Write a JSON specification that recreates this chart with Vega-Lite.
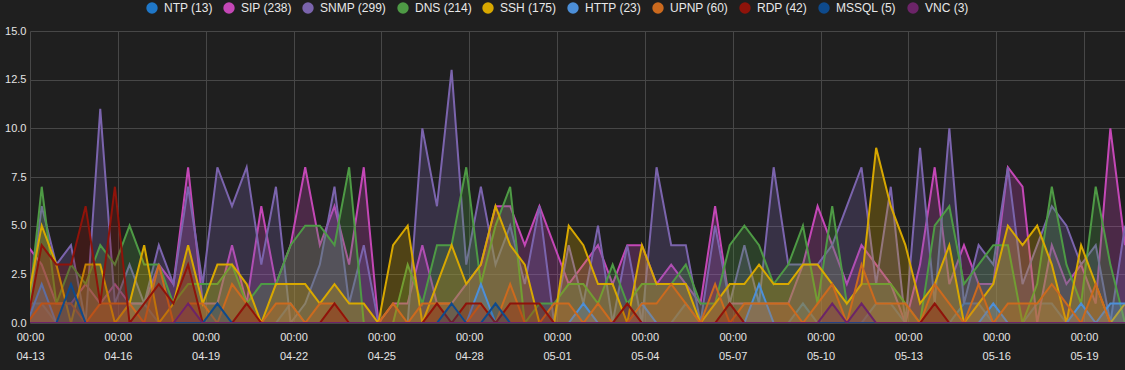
{
  "$schema": "https://vega.github.io/schema/vega-lite/v6.json",
  "width": 1095,
  "height": 292,
  "autosize": {"type": "none"},
  "padding": {"left": 30, "top": 31, "right": 0, "bottom": 47},
  "background": "#1f1f1f",
  "config": {
    "view": {"stroke": null},
    "axis": {"domain": false, "ticks": false, "gridColor": "#474747", "gridWidth": 1, "labelColor": "#e4e4e4", "labelFont": "Liberation Sans", "labelFontSize": 11},
    "legend": {"labelFont": "Liberation Sans"}
  },
  "data": {"values": [
    {"t":"2024-04-12T21:36:00Z","NTP":1,"SIP":4,"SNMP":0,"DNS":0,"SSH":1,"HTTP":0,"UPNP":0,"RDP":0,"MSSQL":0,"VNC":0},
    {"t":"2024-04-13T09:36:00Z","NTP":1,"SIP":3,"SNMP":6,"DNS":7,"SSH":5,"HTTP":2,"UPNP":1,"RDP":4,"MSSQL":0,"VNC":0},
    {"t":"2024-04-13T21:36:00Z","NTP":0,"SIP":1,"SNMP":3,"DNS":1,"SSH":3,"HTTP":0,"UPNP":1,"RDP":3,"MSSQL":0,"VNC":0},
    {"t":"2024-04-14T09:36:00Z","NTP":0,"SIP":1,"SNMP":4,"DNS":3,"SSH":0,"HTTP":0,"UPNP":1,"RDP":3,"MSSQL":2,"VNC":0},
    {"t":"2024-04-14T21:36:00Z","NTP":0,"SIP":2,"SNMP":0,"DNS":2,"SSH":3,"HTTP":0,"UPNP":0,"RDP":6,"MSSQL":0,"VNC":0},
    {"t":"2024-04-15T09:36:00Z","NTP":0,"SIP":1,"SNMP":11,"DNS":4,"SSH":3,"HTTP":0,"UPNP":1,"RDP":1,"MSSQL":0,"VNC":0},
    {"t":"2024-04-15T21:36:00Z","NTP":0,"SIP":2,"SNMP":1,"DNS":3,"SSH":0,"HTTP":0,"UPNP":1,"RDP":7,"MSSQL":0,"VNC":0},
    {"t":"2024-04-16T09:36:00Z","NTP":1,"SIP":1,"SNMP":3,"DNS":5,"SSH":1,"HTTP":0,"UPNP":1,"RDP":0,"MSSQL":0,"VNC":0},
    {"t":"2024-04-16T21:36:00Z","NTP":1,"SIP":1,"SNMP":1,"DNS":3,"SSH":4,"HTTP":0,"UPNP":0,"RDP":1,"MSSQL":0,"VNC":0},
    {"t":"2024-04-17T09:36:00Z","NTP":0,"SIP":3,"SNMP":4,"DNS":3,"SSH":0,"HTTP":0,"UPNP":3,"RDP":2,"MSSQL":0,"VNC":0},
    {"t":"2024-04-17T21:36:00Z","NTP":0,"SIP":2,"SNMP":2,"DNS":1,"SSH":1,"HTTP":0,"UPNP":0,"RDP":1,"MSSQL":0,"VNC":0},
    {"t":"2024-04-18T09:36:00Z","NTP":0,"SIP":8,"SNMP":7,"DNS":2,"SSH":4,"HTTP":0,"UPNP":1,"RDP":3,"MSSQL":0,"VNC":1},
    {"t":"2024-04-18T21:36:00Z","NTP":0,"SIP":1,"SNMP":2,"DNS":2,"SSH":1,"HTTP":0,"UPNP":1,"RDP":0,"MSSQL":0,"VNC":0},
    {"t":"2024-04-19T09:36:00Z","NTP":0,"SIP":1,"SNMP":8,"DNS":2,"SSH":3,"HTTP":0,"UPNP":0,"RDP":0,"MSSQL":1,"VNC":0},
    {"t":"2024-04-19T21:36:00Z","NTP":0,"SIP":4,"SNMP":6,"DNS":3,"SSH":3,"HTTP":0,"UPNP":2,"RDP":0,"MSSQL":0,"VNC":0},
    {"t":"2024-04-20T09:36:00Z","NTP":0,"SIP":1,"SNMP":8,"DNS":1,"SSH":2,"HTTP":0,"UPNP":1,"RDP":1,"MSSQL":0,"VNC":0},
    {"t":"2024-04-20T21:36:00Z","NTP":0,"SIP":6,"SNMP":3,"DNS":2,"SSH":0,"HTTP":0,"UPNP":0,"RDP":0,"MSSQL":0,"VNC":0},
    {"t":"2024-04-21T09:36:00Z","NTP":0,"SIP":2,"SNMP":7,"DNS":2,"SSH":2,"HTTP":0,"UPNP":1,"RDP":0,"MSSQL":0,"VNC":0},
    {"t":"2024-04-21T21:36:00Z","NTP":1,"SIP":4,"SNMP":0,"DNS":4,"SSH":2,"HTTP":0,"UPNP":1,"RDP":0,"MSSQL":0,"VNC":0},
    {"t":"2024-04-22T09:36:00Z","NTP":0,"SIP":8,"SNMP":1,"DNS":5,"SSH":2,"HTTP":0,"UPNP":0,"RDP":0,"MSSQL":0,"VNC":0},
    {"t":"2024-04-22T21:36:00Z","NTP":0,"SIP":4,"SNMP":3,"DNS":5,"SSH":1,"HTTP":0,"UPNP":1,"RDP":0,"MSSQL":0,"VNC":0},
    {"t":"2024-04-23T09:36:00Z","NTP":0,"SIP":6,"SNMP":7,"DNS":4,"SSH":2,"HTTP":0,"UPNP":1,"RDP":1,"MSSQL":0,"VNC":0},
    {"t":"2024-04-23T21:36:00Z","NTP":0,"SIP":3,"SNMP":1,"DNS":8,"SSH":1,"HTTP":0,"UPNP":0,"RDP":0,"MSSQL":0,"VNC":0},
    {"t":"2024-04-24T09:36:00Z","NTP":0,"SIP":8,"SNMP":4,"DNS":0,"SSH":1,"HTTP":0,"UPNP":0,"RDP":0,"MSSQL":0,"VNC":0},
    {"t":"2024-04-24T21:36:00Z","NTP":0,"SIP":0,"SNMP":0,"DNS":0,"SSH":0,"HTTP":0,"UPNP":0,"RDP":0,"MSSQL":0,"VNC":0},
    {"t":"2024-04-25T09:36:00Z","NTP":0,"SIP":1,"SNMP":0,"DNS":0,"SSH":4,"HTTP":0,"UPNP":1,"RDP":0,"MSSQL":0,"VNC":0},
    {"t":"2024-04-25T21:36:00Z","NTP":0,"SIP":1,"SNMP":0,"DNS":3,"SSH":5,"HTTP":0,"UPNP":0,"RDP":0,"MSSQL":0,"VNC":0},
    {"t":"2024-04-26T09:36:00Z","NTP":0,"SIP":4,"SNMP":10,"DNS":1,"SSH":0,"HTTP":0,"UPNP":1,"RDP":0,"MSSQL":0,"VNC":0},
    {"t":"2024-04-26T21:36:00Z","NTP":0,"SIP":1,"SNMP":6,"DNS":4,"SSH":2,"HTTP":0,"UPNP":1,"RDP":1,"MSSQL":0,"VNC":0},
    {"t":"2024-04-27T09:36:00Z","NTP":0,"SIP":1,"SNMP":13,"DNS":4,"SSH":4,"HTTP":0,"UPNP":1,"RDP":0,"MSSQL":1,"VNC":0},
    {"t":"2024-04-27T21:36:00Z","NTP":0,"SIP":2,"SNMP":3,"DNS":8,"SSH":2,"HTTP":0,"UPNP":0,"RDP":1,"MSSQL":0,"VNC":0},
    {"t":"2024-04-28T09:36:00Z","NTP":0,"SIP":3,"SNMP":7,"DNS":2,"SSH":3,"HTTP":2,"UPNP":1,"RDP":1,"MSSQL":0,"VNC":0},
    {"t":"2024-04-28T21:36:00Z","NTP":0,"SIP":6,"SNMP":3,"DNS":5,"SSH":6,"HTTP":0,"UPNP":0,"RDP":0,"MSSQL":1,"VNC":0},
    {"t":"2024-04-29T09:36:00Z","NTP":0,"SIP":6,"SNMP":5,"DNS":7,"SSH":4,"HTTP":0,"UPNP":2,"RDP":1,"MSSQL":0,"VNC":0},
    {"t":"2024-04-29T21:36:00Z","NTP":0,"SIP":4,"SNMP":2,"DNS":0,"SSH":3,"HTTP":0,"UPNP":0,"RDP":1,"MSSQL":0,"VNC":0},
    {"t":"2024-04-30T09:36:00Z","NTP":0,"SIP":6,"SNMP":6,"DNS":1,"SSH":0,"HTTP":0,"UPNP":0,"RDP":1,"MSSQL":0,"VNC":0},
    {"t":"2024-04-30T21:36:00Z","NTP":0,"SIP":4,"SNMP":0,"DNS":1,"SSH":0,"HTTP":0,"UPNP":1,"RDP":0,"MSSQL":0,"VNC":0},
    {"t":"2024-05-01T09:36:00Z","NTP":0,"SIP":2,"SNMP":4,"DNS":2,"SSH":5,"HTTP":0,"UPNP":1,"RDP":0,"MSSQL":0,"VNC":0},
    {"t":"2024-05-01T21:36:00Z","NTP":0,"SIP":3,"SNMP":1,"DNS":2,"SSH":4,"HTTP":1,"UPNP":0,"RDP":0,"MSSQL":0,"VNC":0},
    {"t":"2024-05-02T09:36:00Z","NTP":0,"SIP":4,"SNMP":5,"DNS":1,"SSH":2,"HTTP":0,"UPNP":1,"RDP":0,"MSSQL":0,"VNC":0},
    {"t":"2024-05-02T21:36:00Z","NTP":0,"SIP":2,"SNMP":0,"DNS":3,"SSH":2,"HTTP":0,"UPNP":0,"RDP":0,"MSSQL":0,"VNC":0},
    {"t":"2024-05-03T09:36:00Z","NTP":0,"SIP":4,"SNMP":4,"DNS":1,"SSH":0,"HTTP":0,"UPNP":0,"RDP":1,"MSSQL":0,"VNC":0},
    {"t":"2024-05-03T21:36:00Z","NTP":0,"SIP":4,"SNMP":0,"DNS":2,"SSH":4,"HTTP":1,"UPNP":1,"RDP":0,"MSSQL":0,"VNC":0},
    {"t":"2024-05-04T09:36:00Z","NTP":0,"SIP":2,"SNMP":8,"DNS":2,"SSH":2,"HTTP":0,"UPNP":1,"RDP":0,"MSSQL":0,"VNC":0},
    {"t":"2024-05-04T21:36:00Z","NTP":0,"SIP":3,"SNMP":4,"DNS":2,"SSH":2,"HTTP":0,"UPNP":2,"RDP":0,"MSSQL":0,"VNC":0},
    {"t":"2024-05-05T09:36:00Z","NTP":1,"SIP":2,"SNMP":4,"DNS":3,"SSH":2,"HTTP":0,"UPNP":1,"RDP":0,"MSSQL":0,"VNC":0},
    {"t":"2024-05-05T21:36:00Z","NTP":0,"SIP":1,"SNMP":0,"DNS":1,"SSH":0,"HTTP":0,"UPNP":0,"RDP":0,"MSSQL":0,"VNC":0},
    {"t":"2024-05-06T09:36:00Z","NTP":0,"SIP":6,"SNMP":5,"DNS":1,"SSH":1,"HTTP":0,"UPNP":2,"RDP":0,"MSSQL":0,"VNC":0},
    {"t":"2024-05-06T21:36:00Z","NTP":0,"SIP":1,"SNMP":1,"DNS":4,"SSH":2,"HTTP":0,"UPNP":0,"RDP":1,"MSSQL":0,"VNC":0},
    {"t":"2024-05-07T09:36:00Z","NTP":0,"SIP":1,"SNMP":4,"DNS":5,"SSH":2,"HTTP":0,"UPNP":1,"RDP":0,"MSSQL":0,"VNC":0},
    {"t":"2024-05-07T21:36:00Z","NTP":0,"SIP":1,"SNMP":1,"DNS":4,"SSH":3,"HTTP":2,"UPNP":1,"RDP":0,"MSSQL":0,"VNC":0},
    {"t":"2024-05-08T09:36:00Z","NTP":0,"SIP":1,"SNMP":8,"DNS":2,"SSH":2,"HTTP":0,"UPNP":1,"RDP":0,"MSSQL":0,"VNC":0},
    {"t":"2024-05-08T21:36:00Z","NTP":0,"SIP":1,"SNMP":3,"DNS":3,"SSH":2,"HTTP":0,"UPNP":1,"RDP":0,"MSSQL":0,"VNC":0},
    {"t":"2024-05-09T09:36:00Z","NTP":1,"SIP":3,"SNMP":3,"DNS":5,"SSH":3,"HTTP":0,"UPNP":0,"RDP":0,"MSSQL":0,"VNC":0},
    {"t":"2024-05-09T21:36:00Z","NTP":0,"SIP":6,"SNMP":3,"DNS":1,"SSH":3,"HTTP":0,"UPNP":1,"RDP":0,"MSSQL":0,"VNC":0},
    {"t":"2024-05-10T09:36:00Z","NTP":0,"SIP":4,"SNMP":4,"DNS":6,"SSH":2,"HTTP":0,"UPNP":2,"RDP":0,"MSSQL":0,"VNC":1},
    {"t":"2024-05-10T21:36:00Z","NTP":0,"SIP":2,"SNMP":6,"DNS":1,"SSH":1,"HTTP":0,"UPNP":0,"RDP":0,"MSSQL":0,"VNC":0},
    {"t":"2024-05-11T09:36:00Z","NTP":0,"SIP":4,"SNMP":8,"DNS":2,"SSH":2,"HTTP":0,"UPNP":3,"RDP":0,"MSSQL":0,"VNC":1},
    {"t":"2024-05-11T21:36:00Z","NTP":1,"SIP":3,"SNMP":2,"DNS":2,"SSH":9,"HTTP":0,"UPNP":1,"RDP":0,"MSSQL":0,"VNC":0},
    {"t":"2024-05-12T09:36:00Z","NTP":1,"SIP":2,"SNMP":7,"DNS":2,"SSH":6,"HTTP":0,"UPNP":1,"RDP":0,"MSSQL":0,"VNC":0},
    {"t":"2024-05-12T21:36:00Z","NTP":0,"SIP":0,"SNMP":0,"DNS":1,"SSH":4,"HTTP":0,"UPNP":1,"RDP":0,"MSSQL":0,"VNC":0},
    {"t":"2024-05-13T09:36:00Z","NTP":0,"SIP":3,"SNMP":9,"DNS":0,"SSH":1,"HTTP":0,"UPNP":0,"RDP":0,"MSSQL":0,"VNC":0},
    {"t":"2024-05-13T21:36:00Z","NTP":0,"SIP":8,"SNMP":1,"DNS":5,"SSH":2,"HTTP":0,"UPNP":2,"RDP":1,"MSSQL":0,"VNC":0},
    {"t":"2024-05-14T09:36:00Z","NTP":0,"SIP":2,"SNMP":10,"DNS":6,"SSH":4,"HTTP":0,"UPNP":1,"RDP":0,"MSSQL":0,"VNC":0},
    {"t":"2024-05-14T21:36:00Z","NTP":1,"SIP":4,"SNMP":1,"DNS":2,"SSH":0,"HTTP":0,"UPNP":0,"RDP":0,"MSSQL":0,"VNC":0},
    {"t":"2024-05-15T09:36:00Z","NTP":1,"SIP":2,"SNMP":4,"DNS":3,"SSH":1,"HTTP":0,"UPNP":2,"RDP":0,"MSSQL":0,"VNC":0},
    {"t":"2024-05-15T21:36:00Z","NTP":0,"SIP":2,"SNMP":3,"DNS":4,"SSH":2,"HTTP":1,"UPNP":0,"RDP":0,"MSSQL":0,"VNC":0},
    {"t":"2024-05-16T09:36:00Z","NTP":0,"SIP":8,"SNMP":8,"DNS":4,"SSH":5,"HTTP":0,"UPNP":1,"RDP":0,"MSSQL":0,"VNC":0},
    {"t":"2024-05-16T21:36:00Z","NTP":0,"SIP":7,"SNMP":2,"DNS":0,"SSH":4,"HTTP":0,"UPNP":1,"RDP":0,"MSSQL":0,"VNC":0},
    {"t":"2024-05-17T09:36:00Z","NTP":1,"SIP":0,"SNMP":4,"DNS":2,"SSH":5,"HTTP":0,"UPNP":1,"RDP":0,"MSSQL":0,"VNC":0},
    {"t":"2024-05-17T21:36:00Z","NTP":1,"SIP":4,"SNMP":6,"DNS":7,"SSH":3,"HTTP":0,"UPNP":2,"RDP":0,"MSSQL":0,"VNC":0},
    {"t":"2024-05-18T09:36:00Z","NTP":0,"SIP":2,"SNMP":5,"DNS":3,"SSH":0,"HTTP":0,"UPNP":1,"RDP":0,"MSSQL":0,"VNC":0},
    {"t":"2024-05-18T21:36:00Z","NTP":0,"SIP":3,"SNMP":3,"DNS":1,"SSH":4,"HTTP":1,"UPNP":0,"RDP":0,"MSSQL":0,"VNC":0},
    {"t":"2024-05-19T09:36:00Z","NTP":0,"SIP":1,"SNMP":4,"DNS":7,"SSH":2,"HTTP":0,"UPNP":2,"RDP":0,"MSSQL":0,"VNC":0},
    {"t":"2024-05-19T21:36:00Z","NTP":0,"SIP":10,"SNMP":0,"DNS":3,"SSH":0,"HTTP":1,"UPNP":0,"RDP":0,"MSSQL":0,"VNC":0},
    {"t":"2024-05-20T09:36:00Z","NTP":0,"SIP":4,"SNMP":5,"DNS":0,"SSH":1,"HTTP":1,"UPNP":0,"RDP":0,"MSSQL":0,"VNC":0}
  ]},
  "transform": [{"fold": ["NTP","SIP","SNMP","DNS","SSH","HTTP","UPNP","RDP","MSSQL","VNC"], "as": ["s","v"]}],
  "encoding": {
    "x": {"field": "t", "type": "temporal", "title": null,
      "scale": {"type": "utc", "domain": [{"year":2024,"month":4,"date":13,"hours":0,"utc":true},{"year":2024,"month":5,"date":20,"hours":9,"minutes":36,"utc":true}]},
      "axis": {"tickCount": {"interval": "day", "step": 3}, "labelExpr": "[utcFormat(datum.value, '%H:%M'), utcFormat(datum.value, '%m-%d')]", "labelFlush": false, "labelOverlap": false, "labelPadding": 8, "labelLineHeight": 19, "grid": true}},
    "y": {"field": "v", "type": "quantitative", "title": null, "stack": null,
      "scale": {"domain": [0, 15], "nice": false},
      "axis": {"values": [0, 2.5, 5, 7.5, 10, 12.5, 15], "format": ".1f", "labelPadding": 4, "grid": true}},
    "color": {"field": "s", "type": "nominal",
      "scale": {"domain": ["NTP","SIP","SNMP","DNS","SSH","HTTP","UPNP","RDP","MSSQL","VNC"],
                "range": ["#1f77c8","#c447b6","#7b64ad","#4e9a45","#d8a800","#4c8fd8","#cc6a1e","#8f130a","#0e4a8c","#6c2468"]},
      "legend": {"orient": "none", "direction": "horizontal", "legendX": 116, "legendY": -29, "title": null,
        "symbolType": "circle", "symbolSize": 130, "labelColor": "#e8e8e8", "labelFontSize": 12, "labelOffset": 6, "columnPadding": 10,
        "labelExpr": "datum.label == 'NTP' ? 'NTP (13)' : datum.label == 'SIP' ? 'SIP (238)' : datum.label == 'SNMP' ? 'SNMP (299)' : datum.label == 'DNS' ? 'DNS (214)' : datum.label == 'SSH' ? 'SSH (175)' : datum.label == 'HTTP' ? 'HTTP (23)' : datum.label == 'UPNP' ? 'UPNP (60)' : datum.label == 'RDP' ? 'RDP (42)' : datum.label == 'MSSQL' ? 'MSSQL (5)' : 'VNC (3)'",
        "encode": {"symbols": {"update": {"fill": {"scale": "color", "field": "value"}, "fillOpacity": {"value": 1}, "opacity": {"value": 1}, "strokeWidth": {"value": 0}}}}}
    }
  },
  "layer": [
    {"transform": [{"filter": "datum.s === 'NTP'"}], "layer": [{"mark": {"type": "area", "fillOpacity": 0.27, "clip": true}}, {"mark": {"type": "line", "strokeWidth": 2, "clip": true}}]},
    {"transform": [{"filter": "datum.s === 'SIP'"}], "layer": [{"mark": {"type": "area", "fillOpacity": 0.27, "clip": true}}, {"mark": {"type": "line", "strokeWidth": 2, "clip": true}}]},
    {"transform": [{"filter": "datum.s === 'SNMP'"}], "layer": [{"mark": {"type": "area", "fillOpacity": 0.27, "clip": true}}, {"mark": {"type": "line", "strokeWidth": 2, "clip": true}}]},
    {"transform": [{"filter": "datum.s === 'DNS'"}], "layer": [{"mark": {"type": "area", "fillOpacity": 0.27, "clip": true}}, {"mark": {"type": "line", "strokeWidth": 2, "clip": true}}]},
    {"transform": [{"filter": "datum.s === 'SSH'"}], "layer": [{"mark": {"type": "area", "fillOpacity": 0.27, "clip": true}}, {"mark": {"type": "line", "strokeWidth": 2, "clip": true}}]},
    {"transform": [{"filter": "datum.s === 'HTTP'"}], "layer": [{"mark": {"type": "area", "fillOpacity": 0.27, "clip": true}}, {"mark": {"type": "line", "strokeWidth": 2, "clip": true}}]},
    {"transform": [{"filter": "datum.s === 'UPNP'"}], "layer": [{"mark": {"type": "area", "fillOpacity": 0.27, "clip": true}}, {"mark": {"type": "line", "strokeWidth": 2, "clip": true}}]},
    {"transform": [{"filter": "datum.s === 'RDP'"}], "layer": [{"mark": {"type": "area", "fillOpacity": 0.27, "clip": true}}, {"mark": {"type": "line", "strokeWidth": 2, "clip": true}}]},
    {"transform": [{"filter": "datum.s === 'MSSQL'"}], "layer": [{"mark": {"type": "area", "fillOpacity": 0.27, "clip": true}}, {"mark": {"type": "line", "strokeWidth": 2, "clip": true}}]},
    {"transform": [{"filter": "datum.s === 'VNC'"}], "layer": [{"mark": {"type": "area", "fillOpacity": 0.27, "clip": true}}, {"mark": {"type": "line", "strokeWidth": 2, "clip": true}}]}
  ]
}
